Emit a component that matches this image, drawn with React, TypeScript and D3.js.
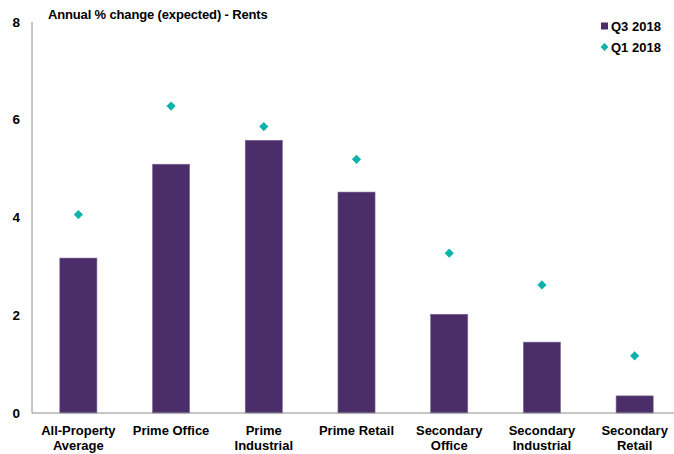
import React from "react";
import * as d3 from "d3";

const categories: string[][] = [
  ["All-Property", "Average"],
  ["Prime Office"],
  ["Prime", "Industrial"],
  ["Prime Retail"],
  ["Secondary", "Office"],
  ["Secondary", "Industrial"],
  ["Secondary", "Retail"],
];
const q3_2018: number[] = [3.17, 5.09, 5.58, 4.52, 2.02, 1.45, 0.35];
const q1_2018: number[] = [4.06, 6.28, 5.86, 5.19, 3.27, 2.62, 1.17];
const yTicks: number[] = [0, 2, 4, 6, 8];
const title = "Annual % change (expected) - Rents";
const seriesNames = ["Q3 2018", "Q1 2018"];

const W = 674;
const H = 454;
const BAR = "#4B2E69";
const DIAMOND = "#0DB3AA";
const FONT = "'Liberation Sans', Arial, sans-serif";

export default function App() {
  const x0 = 32;
  const x1 = 681;
  const y = d3.scaleLinear().domain([0, 8]).range([413, 22]);
  const x = d3
    .scaleBand<number>()
    .domain(categories.map((_, i) => i))
    .range([x0, x1])
    .paddingInner(0.6)
    .paddingOuter(0.3);
  const r = 4.6;
  const dp = d3.path();
  dp.moveTo(0, -r);
  dp.lineTo(r, 0);
  dp.lineTo(0, r);
  dp.lineTo(-r, 0);
  dp.closePath();
  const diamond = dp.toString();

  return (
    <svg
      width={W}
      height={H}
      style={{ position: "absolute", left: 0, top: 0, background: "#fff" }}
      fontFamily={FONT}
    >
      {/* bars */}
      {q3_2018.map((v, i) => (
        <rect
          key={"b" + i}
          x={x(i)!}
          y={y(v)}
          width={x.bandwidth()}
          height={y(0) - y(v)}
          fill={BAR}
          stroke="#7c6595"
          strokeWidth={0.6}
        />
      ))}
      {/* diamonds */}
      {q1_2018.map((v, i) => (
        <path
          key={"d" + i}
          d={diamond}
          transform={`translate(${x(i)! + x.bandwidth() / 2},${y(v)})`}
          fill={DIAMOND}
        />
      ))}
      {/* axes */}
      <line x1={x0} x2={x0} y1={y(8)} y2={y(0)} stroke="#8c8c8c" strokeWidth={1} />
      <line x1={x0} x2={x1} y1={y(0)} y2={y(0)} stroke="#8c8c8c" strokeWidth={1} />
      {yTicks.map((t) => (
        <text
          key={"t" + t}
          x={20}
          y={y(t)}
          dy="0.35em"
          textAnchor="end"
          fontSize={13.5}
          fontWeight="bold"
          fill="#000"
        >
          {t}
        </text>
      ))}
      {categories.map((lines, i) => (
        <text
          key={"c" + i}
          x={x(i)! + x.bandwidth() / 2}
          y={435}
          textAnchor="middle"
          fontSize={13}
          fontWeight="bold"
          fill="#000"
        >
          {lines.map((l, j) => (
            <tspan key={j} x={x(i)! + x.bandwidth() / 2} dy={j === 0 ? 0 : 15}>
              {l}
            </tspan>
          ))}
        </text>
      ))}
      {/* title */}
      <text x={48} y={19} fontSize={13} fontWeight="bold" letterSpacing={-0.15} fill="#000">
        {title}
      </text>
      {/* legend */}
      <rect x={601} y={22.5} width={7} height={7} fill={BAR} />
      <text x={611} y={26} dy="0.35em" fontSize={13} fontWeight="bold" fill="#000">
        {seriesNames[0]}
      </text>
      <path d={diamond} transform="translate(604.5,47) scale(0.85)" fill={DIAMOND} />
      <text x={611} y={47} dy="0.35em" fontSize={13} fontWeight="bold" fill="#000">
        {seriesNames[1]}
      </text>
    </svg>
  );
}
